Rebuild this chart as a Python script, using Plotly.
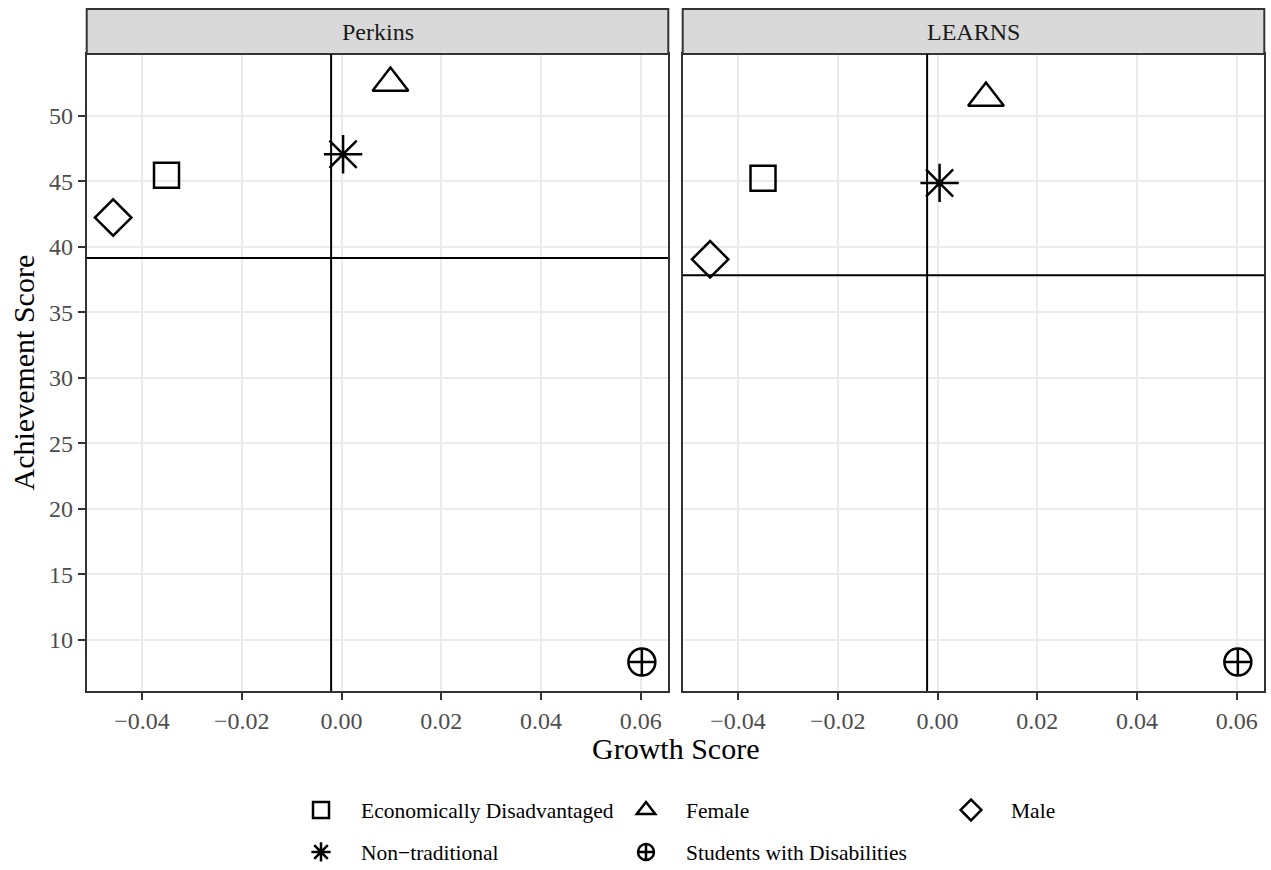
import plotly.graph_objects as go

# ---- data ----
groups = ["Economically Disadvantaged", "Female", "Male", "Non−traditional", "Students with Disabilities"]
symbols = ["square-open", "triangle-up-open", "diamond-open", "asterisk-open", "circle-cross-open"]
sizes = [25, 31, 28, 32, 27]
legend_rows = ["legend", "legend", "legend", "legend2", "legend2"]
facets = ["Perkins", "LEARNS"]
perkins_growth = [-0.0351, 0.0098, -0.0458, 0.0003, 0.0602]
perkins_achieve = [45.46, 52.50, 42.23, 47.06, 8.30]
learns_growth = [-0.0350, 0.0097, -0.0456, 0.0004, 0.0602]
learns_achieve = [45.23, 51.35, 39.04, 44.87, 8.30]
growth_ref = [-0.0021, -0.0021]
achieve_ref = [39.14, 37.82]
x_ticks = [-0.04, -0.02, 0.0, 0.02, 0.04, 0.06]
x_ticktext = ["−0.04", "−0.02", "0.00", "0.02", "0.04", "0.06"]
y_ticks = [10, 15, 20, 25, 30, 35, 40, 45, 50]

W, H = 1271, 870
FONT = "Liberation Serif"

growth = [perkins_growth, learns_growth]
achieve = [perkins_achieve, learns_achieve]

# ggplot-like 5% expansion of the shared scales
allx = perkins_growth + learns_growth
ally = perkins_achieve + learns_achieve
dx = (max(allx) - min(allx)) * 0.05
dy = (max(ally) - min(ally)) * 0.05
xr = [min(allx) - dx, max(allx) + dx]
yr = [min(ally) - dy, max(ally) + dy]

fig = go.Figure()
for fi, facet in enumerate(facets):
    xa = "x" if fi == 0 else "x2"
    ya = "y" if fi == 0 else "y2"
    for gi, g in enumerate(groups):
        fig.add_trace(go.Scatter(
            x=[growth[fi][gi]], y=[achieve[fi][gi]],
            mode="markers", name=g,
            xaxis=xa, yaxis=ya,
            legend=legend_rows[gi],
            showlegend=(fi == 0),
            marker=dict(symbol=symbols[gi], size=sizes[gi], color="black",
                        line=dict(width=2.5, color="black")),
        ))

# panel geometry in pixels
px_x = [(86.7, 668.3), (682.7, 1264.3)]
py = (54, 691)
strip = (9, 54)

axis_common = dict(
    range=xr, tickvals=x_ticks, ticktext=x_ticktext,
    showgrid=True, gridcolor="#EBEBEB", gridwidth=1.6,
    zeroline=False, showline=True, linecolor="#333333", linewidth=2,
    mirror=True, ticks="outside", ticklen=7, tickwidth=1.6, tickcolor="#333333",
    tickfont=dict(family=FONT, size=24, color="#4D4D4D"),
    automargin=False,
)
yaxis_common = dict(
    range=yr, tickvals=y_ticks,
    showgrid=True, gridcolor="#EBEBEB", gridwidth=1.6,
    zeroline=False, showline=True, linecolor="#333333", linewidth=2,
    mirror=True, ticks="outside", ticklen=7, tickwidth=1.6, tickcolor="#333333",
    tickfont=dict(family=FONT, size=24, color="#4D4D4D"),
    domain=[1 - py[1] / H, 1 - py[0] / H], automargin=False,
)

leg_common = dict(orientation="h", xref="container", yref="container",
                  x=281 / W, xanchor="left", yanchor="middle",
                  entrywidth=240, entrywidthmode="pixels", itemwidth=70,
                  font=dict(family=FONT, size=21.5, color="black"),
                  bgcolor="rgba(0,0,0,0)")

fig.update_layout(
    width=W, height=H, autosize=False,
    margin=dict(l=0, r=0, t=0, b=0, autoexpand=False),
    paper_bgcolor="white", plot_bgcolor="white",
    font=dict(family=FONT, color="black"),
    xaxis=dict(axis_common, domain=[px_x[0][0] / W, px_x[0][1] / W], anchor="y"),
    xaxis2=dict(axis_common, domain=[px_x[1][0] / W, px_x[1][1] / W], anchor="y2", matches="x"),
    yaxis=dict(yaxis_common, anchor="x"),
    yaxis2=dict(yaxis_common, anchor="x2", matches="y", showticklabels=False, ticks=""),
    legend=dict(leg_common, y=1 - 810 / H),
    legend2=dict(leg_common, y=1 - 852 / H),
)

shapes = []
annotations = []
for fi, facet in enumerate(facets):
    x0, x1 = px_x[fi]
    shapes.append(dict(type="rect", xref="paper", yref="paper",
                       x0=x0 / W, x1=x1 / W, y0=1 - strip[1] / H, y1=1 - strip[0] / H,
                       fillcolor="#D9D9D9", line=dict(color="#333333", width=2), layer="above"))
    annotations.append(dict(text=facet, xref="paper", yref="paper",
                            x=(x0 + x1) / 2 / W, y=1 - (strip[0] + strip[1]) / 2 / H,
                            xanchor="center", yanchor="middle", showarrow=False,
                            font=dict(family=FONT, size=24, color="#1A1A1A")))
    xa = "x" if fi == 0 else "x2"
    ya = "y" if fi == 0 else "y2"
    shapes.append(dict(type="line", xref=xa, yref=ya + " domain",
                       x0=growth_ref[fi], x1=growth_ref[fi], y0=0, y1=1,
                       line=dict(color="black", width=2)))
    shapes.append(dict(type="line", xref=xa + " domain", yref=ya,
                       x0=0, x1=1, y0=achieve_ref[fi], y1=achieve_ref[fi],
                       line=dict(color="black", width=2)))

annotations.append(dict(text="Growth Score", xref="paper", yref="paper",
                        x=(px_x[0][0] + px_x[1][1]) / 2 / W, y=1 - 748 / H,
                        xanchor="center", yanchor="middle", showarrow=False,
                        font=dict(family=FONT, size=30, color="black")))
annotations.append(dict(text="Achievement Score", xref="paper", yref="paper",
                        x=23 / W, y=1 - (py[0] + py[1]) / 2 / H, textangle=-90,
                        xanchor="center", yanchor="middle", showarrow=False,
                        font=dict(family=FONT, size=30, color="black")))

fig.update_layout(shapes=shapes, annotations=annotations)
fig.write_html("out.html", config={"displayModeBar": False},
               post_script="document.body.style.margin='0';document.body.style.overflow='hidden';")
